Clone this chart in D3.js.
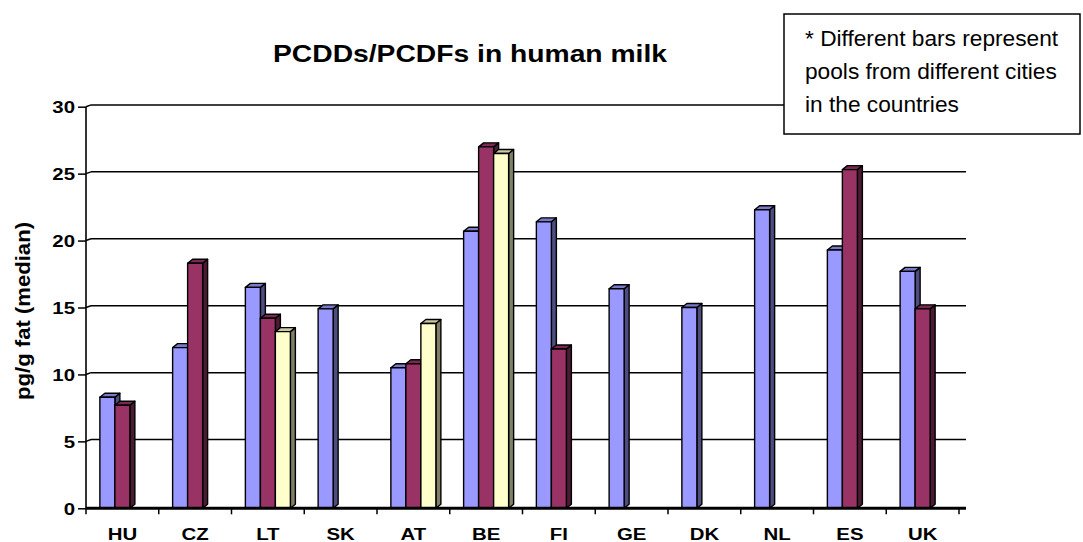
<!DOCTYPE html>
<html>
<head>
<meta charset="utf-8">
<script src="https://cdn.jsdelivr.net/npm/d3@7"></script>
<style>
  html, body { margin: 0; padding: 0; background: #fff; }
  svg { display: block; }
  text { font-family: "Liberation Sans", Arial, sans-serif; fill: #000; }
</style>
</head>
<body>
<svg id="chart" width="1083" height="542"></svg>
<script>
// ---- data ----
const categories = ["HU", "CZ", "LT", "SK", "AT", "BE", "FI", "GE", "DK", "NL", "ES", "UK"];
const pool1 = [8.3, 12.0, 16.5, 14.9, 10.5, 20.7, 21.4, 16.4, 15.0, 22.3, 19.3, 17.7];
const pool2 = [7.7, 18.3, 14.2, null, 10.8, 27.0, 11.9, null, null, null, 25.3, 14.9];
const pool3 = [null, null, 13.2, null, 13.8, 26.5, null, null, null, null, null, null];
const yTicks = [0, 5, 10, 15, 20, 25, 30];
const seriesColors = ["#9999FF", "#993366", "#FFFFCC"];
const titleText = "PCDDs/PCDFs in human milk";
const yLabelText = "pg/g fat (median)";
const noteLines = ["* Different bars represent", "pools from different cities", "in the countries"];

const series = [pool1, pool2, pool3];

// ---- layout ----
const svg = d3.select("#chart");
const left = 86, right = 959, floorY = 508.3, topY = 106.7;
const depthX = 5, depthY = 4;      // bar 3D depth
const wallX = 5, wallY = 1.8;      // back wall offset
const SX = 1.2;                    // horizontal text stretch

const x = d3.scaleBand().domain(categories).range([left, right]).padding(0);
const xs = d3.scaleBand().domain([0, 1, 2]).range([0, x.bandwidth()]).paddingInner(0).paddingOuter(0.925);
const y = d3.scaleLinear().domain([0, 30]).range([floorY, topY]);

// gridlines on back wall
const grid = svg.append("g");
yTicks.filter(t => t > 0).forEach(t => {
  const yy = y(t);
  grid.append("line").attr("x1", left).attr("y1", yy).attr("x2", left + wallX).attr("y2", yy - wallY)
    .attr("stroke", "#000").attr("stroke-width", 1.5);
  grid.append("line").attr("x1", left + wallX).attr("y1", yy - wallY).attr("x2", right + 7).attr("y2", yy - wallY)
    .attr("stroke", "#000").attr("stroke-width", 1.5);
});

// y axis using d3 axis
const yAxis = d3.axisLeft(y).tickValues(yTicks).tickSize(8).tickPadding(0).tickFormat(d3.format("d"));
const gy = svg.append("g").attr("transform", `translate(${left},0)`).call(yAxis);
gy.select(".domain").attr("stroke", "#000").attr("stroke-width", 1.6).attr("d", `M0,${topY}V${floorY}`);
gy.selectAll(".tick line").attr("stroke", "#000").attr("stroke-width", 1.5);
gy.selectAll(".tick text").each(function(d) {
  const t = d3.select(this);
  t.attr("x", null).attr("dy", null)
   .attr("text-anchor", "end")
   .attr("font-size", 17).attr("font-weight", "bold")
   .attr("transform", `translate(-11,6.1) scale(${SX},1)`);
});

// x axis
const xAxis = d3.axisBottom(x).tickSize(0).tickPadding(0);
const gx = svg.append("g").attr("transform", `translate(0,${floorY})`).call(xAxis);
gx.select(".domain").remove();
gx.selectAll(".tick text").each(function() {
  d3.select(this).attr("y", null).attr("dy", null)
    .attr("text-anchor", "middle").attr("font-size", 17).attr("font-weight", "bold")
    .attr("transform", `translate(0,31.5) scale(${SX},1)`);
});
// category tick marks at boundaries
const boundaries = categories.map(c => x(c)).concat([right]);
svg.append("g").selectAll("line").data(boundaries).join("line")
  .attr("x1", d => d).attr("x2", d => d).attr("y1", floorY).attr("y2", floorY + 6)
  .attr("stroke", "#000").attr("stroke-width", 1.5);

// bars
function shade(c, k) { const r = d3.rgb(c); return d3.rgb(r.r * k, r.g * k, r.b * k).toString(); }
const barsG = svg.append("g");
categories.forEach((cat, i) => {
  series.forEach((vals, j) => {
    const v = vals[i];
    if (v == null) return;
    const x0 = x(cat) + xs(j), w = xs.bandwidth();
    const x1 = x0 + w, yt = y(v), yb = floorY;
    const col = seriesColors[j];
    const g = barsG.append("g").attr("stroke", "#000").attr("stroke-width", 1.4).attr("stroke-linejoin", "round");
    // side face
    g.append("path").attr("d", `M${x1},${yt}L${x1 + depthX},${yt - depthY}L${x1 + depthX},${yb - depthY}L${x1},${yb}Z`)
      .attr("fill", shade(col, 0.5));
    // top face
    g.append("path").attr("d", `M${x0},${yt}L${x0 + depthX},${yt - depthY}L${x1 + depthX},${yt - depthY}L${x1},${yt}Z`)
      .attr("fill", shade(col, 0.8));
    // front face
    g.append("rect").attr("x", x0).attr("y", yt).attr("width", w).attr("height", yb - yt).attr("fill", col);
  });
});

// floor line
svg.append("line").attr("x1", left).attr("x2", right + 7).attr("y1", floorY).attr("y2", floorY)
  .attr("stroke", "#000").attr("stroke-width", 3);

// title
svg.append("text").attr("x", 470).attr("y", 62).attr("text-anchor", "middle")
  .attr("font-size", 24.5).attr("font-weight", "bold")
  .attr("textLength", 394).attr("lengthAdjust", "spacingAndGlyphs")
  .text(titleText);

// y label
svg.append("text").attr("transform", "translate(29.5,311) rotate(-90)").attr("text-anchor", "middle")
  .attr("font-size", 20).attr("font-weight", "bold")
  .attr("textLength", 178).attr("lengthAdjust", "spacingAndGlyphs")
  .text(yLabelText);

// note box
const note = svg.append("g");
note.append("rect").attr("x", 784).attr("y", 14).attr("width", 296).attr("height", 120)
  .attr("fill", "#fff").attr("stroke", "#000").attr("stroke-width", 1.5);
note.selectAll("text").data(noteLines).join("text")
  .attr("x", 805).attr("y", (d, i) => 46 + i * 33)
  .attr("font-size", 22.7)
  .text(d => d);
</script>
</body>
</html>
